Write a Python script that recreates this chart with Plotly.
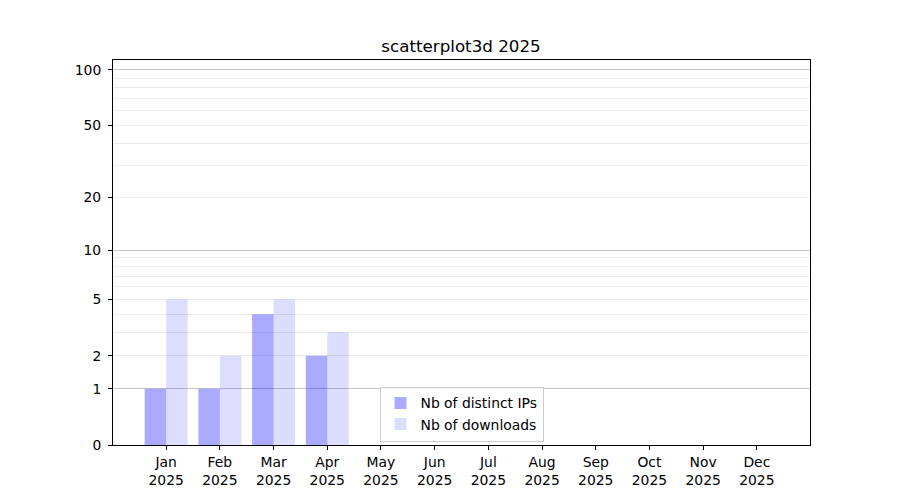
import numpy as np
import plotly.graph_objects as go

# ---- data ----
months = ["Jan", "Feb", "Mar", "Apr", "May", "Jun", "Jul", "Aug", "Sep", "Oct", "Nov", "Dec"]
year = "2025"
distinct_ips = [1, 1, 4, 2, 0, 0, 0, 0, 0, 0, 0, 0]
downloads = [5, 2, 5, 3, 0, 0, 0, 0, 0, 0, 0, 0]
y_tick_values = [0, 1, 2, 5, 10, 20, 50, 100]
major_grid_values = [1, 10, 100]
minor_grid_values = [2, 3, 4, 5, 6, 7, 8, 9, 20, 30, 40, 50, 60, 70, 80, 90]
y_top_value = 113.2


def fwd(v):
    """log10(1 + x) scale used by the reference chart"""
    return np.log10(1.0 + np.asarray(v, dtype=float))


x_idx = list(range(len(months)))
tick_text = [f"{m}<br>{year}" for m in months]

FONT = "DejaVu Sans"
fig = go.Figure()
# invisible helper trace so the overlay axis (major grid lines) is rendered
fig.add_trace(go.Scatter(
    x=[x_idx[0]], y=[0], yaxis="y2", mode="markers",
    marker=dict(opacity=0), showlegend=False, hoverinfo="skip",
))
fig.add_trace(go.Bar(
    x=x_idx, y=fwd(distinct_ips), offset=-0.4, width=0.4,
    marker=dict(color="rgba(0,0,255,0.333)", line=dict(width=0)),
    name="Nb of distinct IPs",
))
fig.add_trace(go.Bar(
    x=x_idx, y=fwd(downloads), offset=0.0, width=0.4,
    marker=dict(color="rgba(0,0,255,0.135)", line=dict(width=0)),
    name="Nb of downloads",
))

yr = [0, float(fwd(y_top_value))]

fig.update_layout(
    width=900, height=500,
    margin=dict(l=112.5, r=90, t=60, b=55, pad=0),
    paper_bgcolor="white", plot_bgcolor="white",
    barmode="overlay",
    font=dict(family=FONT, size=13.9, color="black"),
    title=dict(text="scatterplot3d 2025", x=461 / 900, xanchor="center",
               y=1 - 46 / 500, yanchor="middle", yref="container",
               font=dict(family=FONT, size=16.7, color="black")),
    xaxis=dict(
        range=[-0.99, 11.99], tickmode="array", tickvals=x_idx, ticktext=tick_text,
        ticks="outside", ticklen=4, tickwidth=1, tickcolor="black",
        showline=True, mirror=True, linecolor="black", linewidth=1,
        showgrid=False, zeroline=False,
        tickfont=dict(family=FONT, size=13.9, color="black"),
    ),
    yaxis=dict(
        range=yr, tickmode="array", tickvals=fwd(y_tick_values),
        ticktext=[str(v) for v in y_tick_values],
        ticks="outside", ticklen=4, tickwidth=1, tickcolor="black",
        ticklabelstandoff=4,
        showline=True, mirror=True, linecolor="black", linewidth=1,
        showgrid=False, zeroline=False,
        minor=dict(tickmode="array", tickvals=fwd(minor_grid_values), showgrid=True,
                   gridcolor="#ebebeb", gridwidth=0.8, ticks=""),
        tickfont=dict(family=FONT, size=13.9, color="black"),
    ),
    yaxis2=dict(
        overlaying="y", side="left", range=yr, tickmode="array",
        tickvals=fwd(major_grid_values), showticklabels=False, ticks="",
        showgrid=True, gridcolor="#c8c8c8", gridwidth=1,
        showline=False, zeroline=False,
    ),
    legend=dict(
        x=0.5, xanchor="center", y=(445 - 441.5) / 385, yanchor="bottom",
        bgcolor="rgba(255,255,255,0.8)", bordercolor="#cccccc", borderwidth=1,
        font=dict(family=FONT, size=13.9, color="black"),
        tracegroupgap=0,
    ),
    showlegend=True,
)

fig.write_html("out.html", config={"displayModeBar": False},
               post_script="document.body.style.margin='0px';")
